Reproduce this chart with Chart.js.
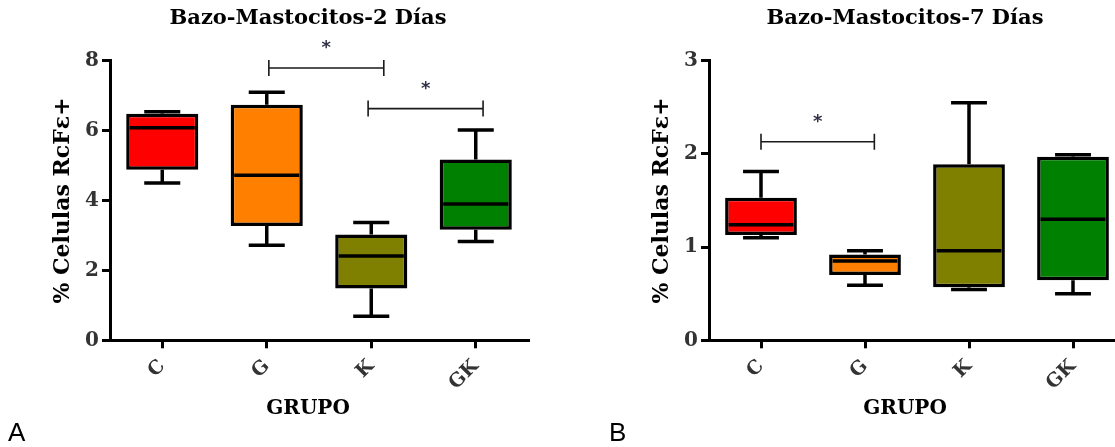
<!DOCTYPE html>
<html lang="es">
<head>
<meta charset="utf-8">
<title>Bazo - Mastocitos</title>
<script src="https://cdn.jsdelivr.net/npm/chart.js@4.4.1/dist/chart.umd.min.js"></script>
<style>
    html, body { margin: 0; padding: 0; background: #fff; overflow: hidden; width: 1115px; height: 447px; }
    .panel { position: absolute; top: 0; height: 447px; }
    #panelA { left: 0; width: 557px; }
    #panelB { left: 557px; width: 600px; }
    .letra { position: absolute; top: 419px; font: 26px 'Liberation Sans', Arial, sans-serif; line-height: 26px; color: #000; }
</style>
</head>
<body>
<div class="panel" id="panelA"><canvas id="dia2" width="557" height="447"></canvas></div>
<div class="panel" id="panelB"><canvas id="dia7" width="600" height="447"></canvas></div>
<div class="letra" style="left:8px">A</div>
<div class="letra" style="left:609px">B</div>
<script>
// Grupos
const grupos = ['C', 'G', 'K', 'GK'];
const coresGrupo = ['#ff0000', '#ff8000', '#808000', '#008000'];

// 2 días: mínimo, cuartiles, mediana, máximo
const minimo2 = [4.50, 2.72, 0.69, 2.83];
const q1Dia2 = [4.88, 3.27, 1.48, 3.16];
const mediana2 = [6.08, 4.72, 2.41, 3.90];
const q3Dia2 = [6.48, 6.74, 3.03, 5.17];
const maximo2 = [6.54, 7.10, 3.37, 6.02];
const ticksY2 = [0, 2, 4, 6, 8];

// 7 días
const minimo7 = [1.10, 0.59, 0.545, 0.50];
const q1Dia7 = [1.13, 0.70, 0.57, 0.645];
const mediana7 = [1.24, 0.85, 0.96, 1.30];
const q3Dia7 = [1.53, 0.92, 1.89, 1.97];
const maximo7 = [1.81, 0.96, 2.55, 1.99];
const ticksY7 = [0, 1, 2, 3];

// Comparaciones significativas (*)
const signif2Desde = [1.02, 1.97];
const signif2Hasta = [2.12, 3.07];
const signif2Altura = [7.79, 6.63];
const signif7Desde = [0];
const signif7Hasta = [1.09];
const signif7Altura = [2.13];

const fonte = "'DejaVu Serif', serif";
const grosor = 3.5;

// Bigotes (min-max) y mediana sobre las barras flotantes
const bigotes = {
    id: 'bigotes',
    beforeDatasetsDraw(chart) {
        const ds = chart.data.datasets[0];
        const meta = chart.getDatasetMeta(0);
        const y = chart.scales.y;
        const ctx = chart.ctx;
        ctx.save();
        ctx.strokeStyle = '#000';
        ctx.lineWidth = grosor;
        meta.data.forEach((barra, i) => {
            const x = barra.x;
            const tapa = barra.width / 4;
            const yMin = y.getPixelForValue(ds.minimo[i]);
            const yMax = y.getPixelForValue(ds.maximo[i]);
            const yQ1 = y.getPixelForValue(ds.data[i][0]);
            const yQ3 = y.getPixelForValue(ds.data[i][1]);
            ctx.beginPath();
            ctx.moveTo(x, yQ3); ctx.lineTo(x, yMax);
            ctx.moveTo(x - tapa, yMax); ctx.lineTo(x + tapa, yMax);
            ctx.moveTo(x, yQ1); ctx.lineTo(x, yMin);
            ctx.moveTo(x - tapa, yMin); ctx.lineTo(x + tapa, yMin);
            ctx.stroke();
        });
        ctx.restore();
    },
    afterDatasetsDraw(chart) {
        const ds = chart.data.datasets[0];
        const meta = chart.getDatasetMeta(0);
        const y = chart.scales.y;
        const ctx = chart.ctx;
        ctx.save();
        ctx.strokeStyle = '#000';
        ctx.lineWidth = grosor;
        meta.data.forEach((barra, i) => {
            const ym = y.getPixelForValue(ds.mediana[i]);
            const meio = barra.width / 2 - grosor;
            ctx.beginPath();
            ctx.moveTo(barra.x - meio, ym);
            ctx.lineTo(barra.x + meio, ym);
            ctx.stroke();
        });
        ctx.restore();
    }
};

// Corchetes con asterisco
const significancia = {
    id: 'significancia',
    afterDraw(chart, args, opts) {
        const { x, y } = chart.scales;
        const ctx = chart.ctx;
        ctx.save();
        opts.desde.forEach((d, i) => {
            const x1 = x.getPixelForValue(d);
            const x2 = x.getPixelForValue(opts.hasta[i]);
            const yy = y.getPixelForValue(opts.altura[i]);
            ctx.strokeStyle = '#1a1a1a';
            ctx.lineWidth = 1.6;
            ctx.beginPath();
            ctx.moveTo(x1, yy); ctx.lineTo(x2, yy);
            ctx.moveTo(x1, yy - 8); ctx.lineTo(x1, yy + 8);
            ctx.moveTo(x2, yy - 8); ctx.lineTo(x2, yy + 8);
            ctx.stroke();
            ctx.fillStyle = '#333348';
            ctx.font = "bold 18px 'DejaVu Sans', sans-serif";
            ctx.textAlign = 'center';
            ctx.textBaseline = 'alphabetic';
            ctx.fillText('*', (x1 + x2) / 2, yy - 15);
        });
        ctx.restore();
    }
};

// Mueve título y "GRUPO" en horizontal
const desplazarTitulos = {
    id: 'desplazarTitulos',
    afterLayout(chart, args, opts) {
        chart.boxes.forEach(b => {
            if (!b.axis) { b.left += opts.dx; b.right += opts.dx; }
        });
    }
};

function crearGrafico(id, titulo, q1, q3, mediana, minimo, maximo, ticksY, padIzq, padDer, dx, signif) {
    const ctx = document.getElementById(id).getContext('2d');
    return new Chart(ctx, {
        type: 'bar',
        data: {
            labels: grupos,
            datasets: [{
                data: grupos.map((g, i) => [q1[i], q3[i]]),
                mediana: mediana,
                minimo: minimo,
                maximo: maximo,
                backgroundColor: coresGrupo,
                borderColor: '#000',
                borderWidth: grosor,
                borderSkipped: false,
                categoryPercentage: 1,
                barPercentage: 0.69,
            }]
        },
        options: {
            responsive: false,
            animation: false,
            layout: { padding: { left: padIzq, right: padDer, top: 0, bottom: 0 } },
            scales: {
                x: {
                    offset: true,
                    grid: { drawOnChartArea: false, offset: false, color: '#000', lineWidth: 3, tickLength: 8 },
                    border: { display: true, color: '#000', width: 3 },
                    ticks: { color: '#333', font: { family: fonte, size: 19, weight: 'bold' }, minRotation: 45, maxRotation: 45, padding: 7 },
                    afterFit: (s) => { s.height = 56; }
                },
                y: {
                    min: ticksY[0],
                    max: ticksY[ticksY.length - 1],
                    afterBuildTicks: (s) => { s.ticks = ticksY.map(v => ({ value: v })); },
                    grid: { drawOnChartArea: false, color: '#000', lineWidth: 3, tickLength: 8 },
                    border: { display: true, color: '#000', width: 3 },
                    ticks: { color: '#333', font: { family: fonte, size: 20, weight: 'bold' }, padding: 3 },
                    title: { display: true, text: '% Celulas RcFε+', color: '#000', font: { family: fonte, size: 22, weight: 'bold' }, padding: 0 },
                    afterFit: (s) => { s.width = 60; }
                }
            },
            plugins: {
                legend: { display: false },
                tooltip: { enabled: false },
                title: {
                    display: true,
                    text: titulo,
                    color: '#000',
                    font: { family: fonte, size: 21, weight: 'bold' },
                    padding: { top: 6, bottom: 29.5 }
                },
                subtitle: {
                    display: true,
                    position: 'bottom',
                    text: 'GRUPO',
                    color: '#000',
                    font: { family: fonte, size: 20, weight: 'bold' },
                    padding: { top: 0, bottom: 26.7 }
                },
                desplazarTitulos: { dx: dx },
                significancia: signif
            }
        },
        plugins: [bigotes, significancia, desplazarTitulos]
    });
}

crearGrafico('dia2', 'Bazo-Mastocitos-2 Días', q1Dia2, q3Dia2, mediana2, minimo2, maximo2, ticksY2, 50, 29, 19,
    { desde: signif2Desde, hasta: signif2Hasta, altura: signif2Altura });

crearGrafico('dia7', 'Bazo-Mastocitos-7 Días', q1Dia7, q3Dia7, mediana7, minimo7, maximo7, ticksY7, 92, 32, 18,
    { desde: signif7Desde, hasta: signif7Hasta, altura: signif7Altura });
</script>
</body>
</html>
